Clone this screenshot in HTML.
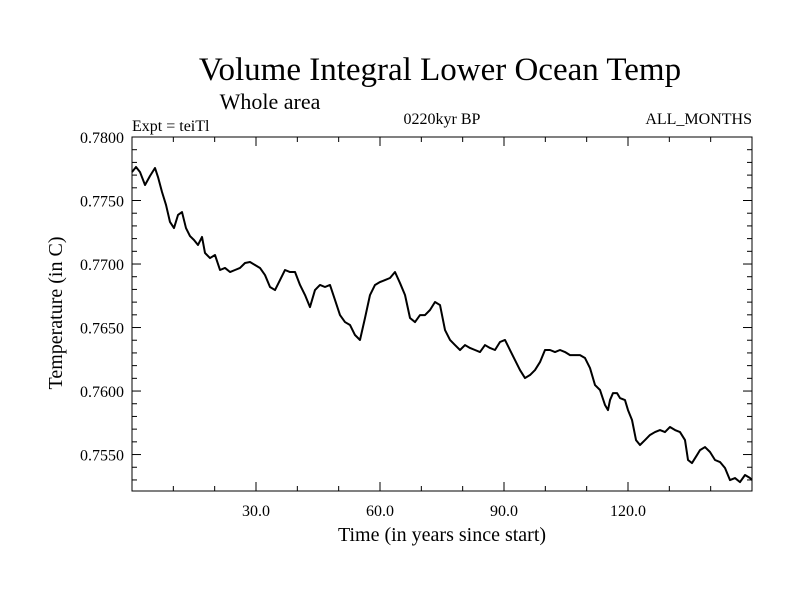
<!DOCTYPE html>
<html><head><meta charset="utf-8"><style>
html,body{margin:0;padding:0;background:#fff;}
svg{display:block;font-family:"Liberation Serif",serif;}
</style></head><body>
<svg id="chart" width="800" height="600" viewBox="0 0 800 600">
<text x="440" y="80" font-size="33" text-anchor="middle">Volume Integral Lower Ocean Temp</text>
<text x="270" y="109" font-size="22" text-anchor="middle">Whole area</text>
<text x="132" y="131" font-size="16">Expt = teiTl</text>
<text x="442" y="124" font-size="16" text-anchor="middle">0220kyr BP</text>
<text x="752" y="124" font-size="16" text-anchor="end">ALL_MONTHS</text>
<text x="442" y="541" font-size="20" text-anchor="middle">Time (in years since start)</text>
<text transform="translate(62,313) rotate(-90)" font-size="20" text-anchor="middle">Temperature (in C)</text>
<g id="axes"></g>
<path id="series" fill="none" stroke="#000" stroke-width="2" stroke-linejoin="round"></path>
<rect x="132" y="137" width="620" height="354" fill="none" stroke="#000" stroke-width="1"></rect>
</svg>
<script>
const years = [0,0.97,1.94,3.15,4.35,5.56,6.29,7.26,8.23,9.19,10.16,11.13,12.1,13.06,14.03,15,15.97,16.94,17.66,18.87,20.08,21.29,22.5,23.71,24.92,26.13,27.34,28.55,29.76,30.97,32.18,33.39,34.6,35.81,37.02,38.23,39.44,40.65,41.86,43.06,44.27,45.48,46.69,47.9,49.11,50.32,51.53,52.74,53.95,55.16,56.37,57.58,58.79,60,61.21,62.42,63.63,64.84,66.05,67.26,68.47,69.68,70.89,72.1,73.31,74.52,75.73,76.94,78.15,79.36,80.57,81.77,82.98,84.19,85.4,86.61,87.82,89.03,90.24,91.45,92.66,93.87,95.08,96.29,97.5,98.71,99.92,101.13,102.34,103.55,104.76,105.97,107.18,108.39,109.6,110.81,112.02,113.23,114.44,115.16,115.65,116.37,117.34,118.06,119.27,120,120.97,121.94,122.9,124.11,125.32,126.53,127.74,128.95,130.16,131.37,132.58,133.79,134.52,135.48,136.69,137.42,138.63,139.84,141.05,142.26,143.47,144.68,145.89,147.1,148.31,149.52,150];
const temps = [0.77724,0.77764,0.77724,0.77622,0.77693,0.77756,0.77685,0.77567,0.77465,0.77331,0.77283,0.77386,0.77409,0.77283,0.7722,0.77189,0.7715,0.77213,0.77087,0.77047,0.77071,0.76953,0.76969,0.76937,0.76953,0.76969,0.77008,0.77016,0.76992,0.76969,0.76913,0.76819,0.76795,0.76874,0.76953,0.76937,0.76937,0.76835,0.76756,0.76661,0.76795,0.76835,0.76819,0.76835,0.76717,0.76598,0.76543,0.7652,0.76441,0.76402,0.76575,0.76756,0.76835,0.76858,0.76874,0.7689,0.76937,0.7685,0.76756,0.76575,0.76543,0.76598,0.76598,0.76638,0.76701,0.76677,0.7648,0.76402,0.76362,0.76323,0.76362,0.76339,0.76323,0.76307,0.76362,0.76339,0.76323,0.76386,0.76402,0.76323,0.76244,0.76165,0.76102,0.76126,0.76165,0.76228,0.76323,0.76323,0.76307,0.76323,0.76307,0.76283,0.76283,0.76283,0.7626,0.76181,0.76047,0.76008,0.7589,0.7585,0.75929,0.75984,0.75984,0.75945,0.75929,0.7585,0.75772,0.75614,0.75575,0.75614,0.75654,0.75677,0.75693,0.75677,0.75717,0.75693,0.75677,0.75614,0.75457,0.75433,0.75496,0.75535,0.75559,0.7552,0.75457,0.75441,0.75394,0.75299,0.75315,0.75283,0.75339,0.75315,0.75299];
const xTickLabels = ["30.0","60.0","90.0","120.0"];
const xTickValues = [30,60,90,120];
const yTickLabels = ["0.7550","0.7600","0.7650","0.7700","0.7750","0.7800"];
const yTickValues = [0.755,0.76,0.765,0.77,0.775,0.78];

const X0=132,X1=752,Y0=137,Y1=491;
const xMin=0,xMax=150,yMin=0.75213,yMax=0.78;
const sx=v=>X0+(v-xMin)/(xMax-xMin)*(X1-X0);
const sy=v=>Y0+(yMax-v)/(yMax-yMin)*(Y1-Y0);
const NS="http://www.w3.org/2000/svg";
const axes=document.getElementById('axes');
function line(x1,y1,x2,y2){
  const l=document.createElementNS(NS,'line');
  l.setAttribute('x1',x1);l.setAttribute('y1',y1);l.setAttribute('x2',x2);l.setAttribute('y2',y2);
  l.setAttribute('stroke','#000');l.setAttribute('stroke-width','1');
  
  
  axes.appendChild(l);
}
function text(x,y,s,anchor){
  const t=document.createElementNS(NS,'text');
  t.setAttribute('x',x);t.setAttribute('y',y);t.setAttribute('font-size','16');
  t.setAttribute('text-anchor',anchor);t.textContent=s;
  
  
  axes.appendChild(t);
}
// x ticks
for(let v=10;v<xMax;v+=10){
  const x=sx(v);const major=v%30===0;const L=major?9:5;
  line(x,Y1,x,Y1-L);line(x,Y0,x,Y0+L);
}
xTickValues.forEach((v,i)=>text(sx(v),516,xTickLabels[i],'middle'));
// y ticks
for(let k=753;k<=780;k++){
  const v=k/1000;const y=sy(v);const major=k%5===0;const L=major?9:5;
  line(X0,y,X0+L,y);line(X1,y,X1-L,y);
}
yTickValues.forEach((v,i)=>text(124,sy(v)+6,yTickLabels[i],'end'));
// series
let d='';
years.forEach((v,i)=>{d+=(i?'L':'M')+sx(v).toFixed(2)+','+sy(temps[i]).toFixed(2);});
document.getElementById('series').setAttribute('d',d);
</script>
</body></html>
